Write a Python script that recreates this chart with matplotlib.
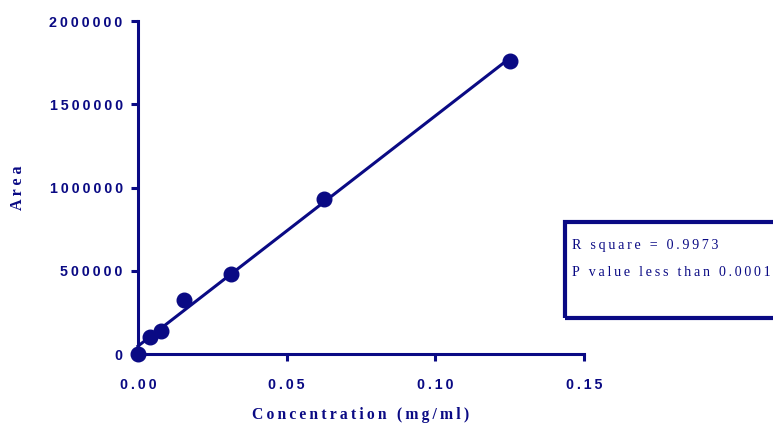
import numpy as np
import matplotlib.pyplot as plt
from matplotlib.patches import Rectangle
from matplotlib.ticker import FuncFormatter

# standard curve points
conc = [0.0, 0.0039, 0.0078, 0.0156, 0.03125, 0.0625, 0.125]
area = [0, 102000, 138000, 324000, 480000, 931000, 1760000]
r_square = "0.9973"
p_text = "less than 0.0001"

navy = '#0a0a84'
ts = '\u2009'  # thin space for letter tracking


def spaced(s):
    return ts.join(s)


fig = plt.figure(figsize=(7.73, 4.23), dpi=100)
ax = fig.add_axes([138 / 773, 69 / 423, 446 / 773, 333 / 423])

slope, intercept = np.polyfit(conc, area, 1)
xl = np.array([0, max(conc)])
ax.plot(xl, slope * xl + intercept, color=navy, lw=2.2, clip_on=False)
ax.plot(conc, area, 'o', color=navy, ms=10.5, clip_on=False, zorder=5)

ax.set_xlim(0, 0.15)
ax.set_ylim(0, 2000000)
ax.set_xticks([0, 0.05, 0.10, 0.15])
ax.set_yticks([0, 500000, 1000000, 1500000, 2000000])
ax.xaxis.set_major_formatter(FuncFormatter(lambda v, p: spaced('%.2f' % v)))
ax.yaxis.set_major_formatter(FuncFormatter(lambda v, p: spaced('%d' % v)))

for s in ['top', 'right']:
    ax.spines[s].set_visible(False)
for s in ['left', 'bottom']:
    ax.spines[s].set_color(navy)
    ax.spines[s].set_linewidth(2.2)

ax.tick_params(colors=navy, width=2.2, length=5)
ax.tick_params(axis='x', pad=12)
ax.tick_params(axis='y', pad=6)
for lab in ax.get_xticklabels() + ax.get_yticklabels():
    lab.set_fontfamily('Liberation Sans')
    lab.set_fontweight('bold')
    lab.set_fontsize(10.3)
    lab.set_color(navy)

ax.set_xlabel(spaced('Concentration (mg/ml)'), family='Liberation Serif',
              fontweight='bold', fontsize=11.3, color=navy, labelpad=11)
ax.set_ylabel(' '.join('Area'), family='Liberation Serif',
              fontweight='bold', fontsize=11.5, color=navy, labelpad=17)

# stats box, clipped at the right edge
fig.patches.append(Rectangle((565 / 773, (423 - 318) / 423), 0.3, 96 / 423,
                             transform=fig.transFigure, fill=False,
                             edgecolor=navy, lw=3))
fig.text(572 / 773, 1 - 245 / 423, spaced('R square = ' + r_square),
         family='Liberation Serif', fontsize=10.1, color=navy, va='center')
fig.text(572 / 773, 1 - 272 / 423, spaced('P value ' + p_text),
         family='Liberation Serif', fontsize=10.1, color=navy, va='center')

fig.savefig('out.png', dpi=100)
